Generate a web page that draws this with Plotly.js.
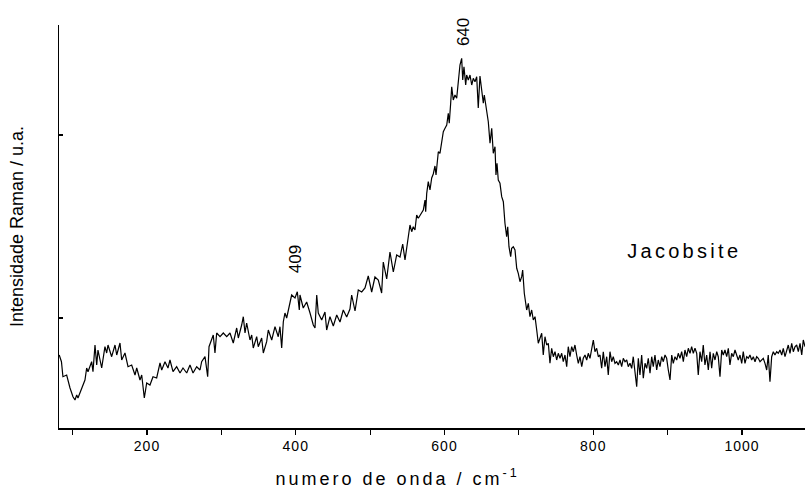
<!DOCTYPE html>
<html>
<head>
<meta charset="utf-8">
<script src="https://cdn.plot.ly/plotly-3.0.1.min.js"></script>
<style>
html,body{margin:0;padding:0;background:#fff;}
#chart{width:805px;height:489px;}
#chart .xtick text{letter-spacing:1px;}
#chart g.annotation[data-index="2"] text{letter-spacing:3.3px;}
#chart g.annotation[data-index="3"] text{letter-spacing:3px;}
</style>
</head>
<body>
<div id="chart"></div>
<script>
// Raman shift (cm-1)
const wavenumber = [
82,85,87,92,96.5,100.5,103.2,105.5,107.2,112.2,116.6,118.9,120.7,125.6,127.4,130.1,132.4,134.1,139.1,143.5,145.8,147.6,152.5,157,159.3,163.7,166,170.4,174.5,179.4,183.9,186.2,190.6,192.9,196.4,199.6,204,208.1,213,217.5,219.8,224.2,228.2,230.9,235,239.9,244.4,248.4,253.4,257.8,261.9,266.8,271.3,273.5,278,281.6,283.4,
289.1,291.4,293.7,298.2,302.6,307.2,311.6,316,320.6,322.8,327.3,329.5,331.8,334,338.5,340.8,342.9,347.5,349.6,354.2,356.4,360.9,363.1,367.7,372.1,376.5,378.8,381.1,383.3,385.5,387.8,392.3,394.5,399,402.1,404.8,405.7,410.1,414.7,419.2,423.6,425.9,428.2,430.3,434.9,439.3,441.6,446,450.5,455.1,459.5,463.9,468.5,472.9,475.2,479.7,484.1,488.7,493.1,497.5,502.1,506.5,511,515.5,517.7,522.3,526.7,531.2,535.7,540.2,543.8,546.9,551.3,
553.6,555.9,558,560.3,562.6,564.8,569.3,571.5,573.8,574.7,576.1,578.2,580.5,582.8,584.9,587.2,588.6,591.7,593.9,596.2,598.4,600.7,603,605.1,606.4,608.3,609.7,611.8,614.1,616.4,618.5,620.8,623.1,624.5,626.2,628.5,629.8,632,634.3,636.6,638.7,641,643.3,645.4,647.7,650,652.2,653.5,656.7,658.9,661.2,663.5,665.6,667.9,669.2,670.6,672.3,674.6,676.9,679.1,681.3,683.6,685,686.7,689,690.3,692.5,694.8,697.1,699.2,701.5,703.8,705.1,707.3,710.5,712.7,714.9,717.2,719.4,721.7,724,726.1,728.4,
730.7,732.8,735.1,737.4,739.6,741.8,744.1,746.3,748.6,750.8,753,755.3,757.6,759.7,762,764.3,766.4,768.7,771,773.2,775.4,777.7,779.9,782.2,784.5,786.6,788.9,791.2,793.3,795.6,797.9,800.1,802.3,804.6,806.8,809.1,811.3,813.5,815.8,818.1,820.2,822.5,824.8,826.9,829.2,831.5,833.7,836,838.2,840.4,842.7,845,847.1,849.4,851.7,853.8,856.1,858.4,860.6,862.8,865.1,867.3,869.6,871.8,874,876.3,878.6,880.7,883,885.3,887.4,889.7,892,894.2,896.5,898.7,900.9,903.2,905.5,907.6,909.9,912.2,914.3,916.6,918.9,921.1,923.3,925.6,927.8,930.1,932.3,934.5,936.8,939.1,941.2,943.5,945.8,947.9,950.2,952.5,954.7,957,959.2,961.4,963.7,966,968.1,970.4,972.7,974.8,977.1,979.4,981.6,983.8,986.1,988.3,990.6,992.9,995,997.3,999.6,1001.7,1004,1006.3,1008.5,1010.7,1013,1015.2,1017.5,1019.7,1021.9,1024.2,1026.5,1028.6,1030.9,1033.2,1035.3,1037.6,1039.9,1042.1,1044.3,1046.6,1048.8,1051.1,1053.4,1055.5,1057.8,1060.1,1062.2,1064.5,1066.8,1069,1071.2,1073.5,1075.7,1078,1080.3,1082.4,1084.7
];
// Raman intensity (arbitrary units)
const intensity = [
73,66.3,51.3,53,40,31.3,28,33,30,40,48,60,56.3,66.3,56.3,83,63,78,60,81.3,75,83,71.3,83,73,85,68,75,61.3,63,53,60,48,53,30,45,43,51.3,50,65,58,66.3,60,68,56.3,61.3,55,60,55,63,55,61.3,58,66.3,71.3,51.3,81.3,
93,75,95,91.3,95,91.3,95,85,100,90,103,111.3,95,105,88,93,80,91.3,81.3,90,75,86.3,98,88,101.3,91.3,101.3,80,106.3,115,110,125,133,130,136.3,118,133,120,126,115,103,100,133,115,108,116,98,111.3,102,113,106,118,111,119,133,117,138,136,140,152,136,151,148,135,166,149,176,156,173,171,184,168,191.3,
203,196.3,201.3,198,213,209.7,214.7,218,228,216.3,234.7,246.3,238,250,254,262,253,276.3,274.7,288,296.3,299.7,303,314.7,304.7,324.7,341.3,328,333,329.7,344.7,363,369.7,348,361.3,343,353,348,353,343,349.7,346.3,351.3,320,352,334.7,324.7,333,316.3,306.3,284.7,299.7,274.7,281.3,253,264.7,248,244.7,231.3,226.3,204.7,191.3,201.3,181.3,171.3,179.7,181.3,178,159.7,154.7,146.3,151.3,158,134.7,118,124.7,111.3,118,108,111.3,98,84.7,89.7,
94.7,73,91.3,83,84.7,64.7,79.7,71.3,76.3,68,74.7,69.7,74.7,66.3,73,61.3,81.3,71.3,81.3,76.3,83,73,64.7,71.3,61.3,69.7,73,68,74.7,69.7,81.3,88,76.3,79.7,71.3,73,59.7,76.3,61.3,71.3,53,76.3,66.3,71.3,64.7,66.3,63,68,61.3,69.7,66.3,68,61.3,64.7,59.7,71.3,56.3,41.3,69.7,53,73,49.7,64.7,59.7,69.7,54.7,71.3,61.3,73,58,68,61.3,71.3,66.3,73,69.7,58,48,73,64.7,71.3,68,74.7,69.7,76.3,66.3,78,71.3,79.7,74.7,81.3,74.7,79.7,74.7,53,76.3,66.3,83,63,73,58,76.3,59.7,74.7,68,76.3,71.3,51.3,78,73,78,71.3,79.7,63,74.7,71.3,78,71.3,68,73,64.7,76.3,64.7,71.3,69.7,73,68,71.3,66.3,71.3,69.7,66.3,68,69.7,64.7,58,73,46.3,71.3,76.3,73,76.3,74.7,78,73,79.7,71.3,78,83,74.7,84.7,76.3,81.3,83,76.3,84.7,73,88,81.3
];
const xTickVals = [200,400,600,800,1000];
const xMinorTickVals = [100,300,500,700,900];
const yTickVals = [110,293];
const peakLabels = ["409","640"];
const peakPos = [400,625];
const peakLabelHeight = [168.5,396];
const sampleName = "Jacobsite";

const font = "Arial, 'Liberation Sans', sans-serif";
const annotations = [
  {x: peakPos[0], y: peakLabelHeight[0], xref:'x', yref:'y', text: peakLabels[0], showarrow:false, textangle:-90, font:{family:font,size:17,color:'#000'}},
  {x: peakPos[1], y: peakLabelHeight[1], xref:'x', yref:'y', text: peakLabels[1], showarrow:false, textangle:-90, font:{family:font,size:17,color:'#000'}},
  {x: 923, y: 177, xref:'x', yref:'y', text: sampleName, showarrow:false, font:{family:font,size:20,color:'#000'}},
  {x: 537, y: -0.124, xref:'x', yref:'paper', yanchor:'middle', text: 'numero de onda / cm<sup>-1</sup>', showarrow:false, font:{family:font,size:18,color:'#000'}}
];

Plotly.newPlot('chart', [{
  x: wavenumber, y: intensity, type:'scatter', mode:'lines',
  line:{color:'#000', width:1.2}, hoverinfo:'skip'
}], {
  width:805, height:489,
  margin:{l:59, r:0, t:25, b:61},
  paper_bgcolor:'#fff', plot_bgcolor:'#fff',
  showlegend:false,
  font:{family:font, color:'#000'},
  xaxis:{
    range:[81.7,1084.7], showgrid:false, zeroline:false,
    showline:true, linecolor:'#000', linewidth:1.5,
    ticks:'outside', ticklen:5, tickwidth:1.2, tickcolor:'#000',
    tickmode:'array', tickvals:xTickVals,
    tickfont:{family:font, size:14, color:'#000'},
    minor:{tickmode:'array', tickvals:xMinorTickVals, ticks:'outside', ticklen:5, tickwidth:1.2, tickcolor:'#000', showgrid:false}
  },
  yaxis:{
    range:[0,403], showgrid:false, zeroline:false,
    showline:true, linecolor:'#000', linewidth:1.5,
    ticks:'inside', ticklen:4, tickwidth:1.2, tickcolor:'#000',
    tickmode:'array', tickvals:yTickVals, showticklabels:false,
    title:{text:'Intensidade Raman / u.a.', font:{family:font,size:18,color:'#000'}, standoff:29}
  },
  annotations: annotations
}, {staticPlot:true}).then(function(gd){
  gd.querySelectorAll('text').forEach(function(t){
    if (!t.textContent.trim()) t.remove();
  });
});
</script>
</body>
</html>
